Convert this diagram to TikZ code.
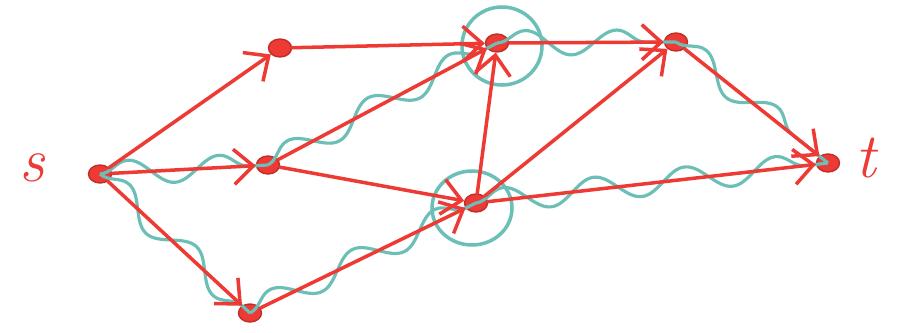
\documentclass[tikz,border=0pt]{standalone}
\usetikzlibrary{arrows.meta,decorations.pathmorphing,shapes.geometric}
\definecolor{pen}{HTML}{EE3A34}
\definecolor{wave}{HTML}{6CBFB6}
\begin{document}
\begin{tikzpicture}[x=0.02cm,y=-0.02cm,
  vtx/.style={ellipse,fill=pen,draw=pen!80!black,line width=0.8pt,minimum width=0.46cm,minimum height=0.36cm,inner sep=0pt},
  lbl/.style={text=pen,font=\fontsize{36}{36}\selectfont\itshape},
  edge/.style={draw=pen,line width=2pt,line cap=round,-{Straight Barb[length=11pt,width=20pt,line width=2pt]}},
  wavy/.style={draw=wave,line width=1.8pt,decorate,decoration={snake,segment length=52pt,amplitude=7pt}},
  ring/.style={draw=wave,line width=2pt}]
\useasboundingbox (0,0) rectangle (899,332);
\node[lbl] (ls) at (32,168) {s};
\node[lbl] (lt) at (866,158) {t};
\node[vtx] (s) at (100,174) {};
\node[vtx] (a) at (280,48) {};
\node[vtx] (b) at (268,165) {};
\node[vtx] (c) at (250,313) {};
\node[vtx] (d) at (497,43) {};
\node[vtx] (e) at (476,203) {};
\node[vtx] (f) at (676,42) {};
\node[vtx] (t) at (828,163) {};
% rings
\draw[ring] (502,46) ellipse [x radius=40, y radius=39];
\draw[ring] (472,208) ellipse [x radius=40, y radius=37];
% wavy paths
\draw[wavy] (s.center) -- (b.center);
\draw[wavy] (b.center) -- (d.center);
\draw[wavy] (d.center) -- (f.center);
\draw[wavy] (f.center) -- (t.center);
\draw[wavy] (s.center) -- (c.center);
\draw[wavy] (c.center) -- (e.center);
\draw[wavy] (e.center) -- (t.center);
% red edges
\draw[edge] (s) -- (a);
\draw[edge] (s) -- (b);
\draw[edge] (s) -- (c);
\draw[edge] (a) -- (d);
\draw[edge] (b) -- (d);
\draw[edge] (b) -- (e);
\draw[edge] (c) -- (e);
\draw[edge] (e) -- (d);
\draw[edge] (e) -- (f);
\draw[edge] (d) -- (f);
\draw[edge] (f) -- (t);
\draw[edge] (e) -- (t);
\end{tikzpicture}
\end{document}
